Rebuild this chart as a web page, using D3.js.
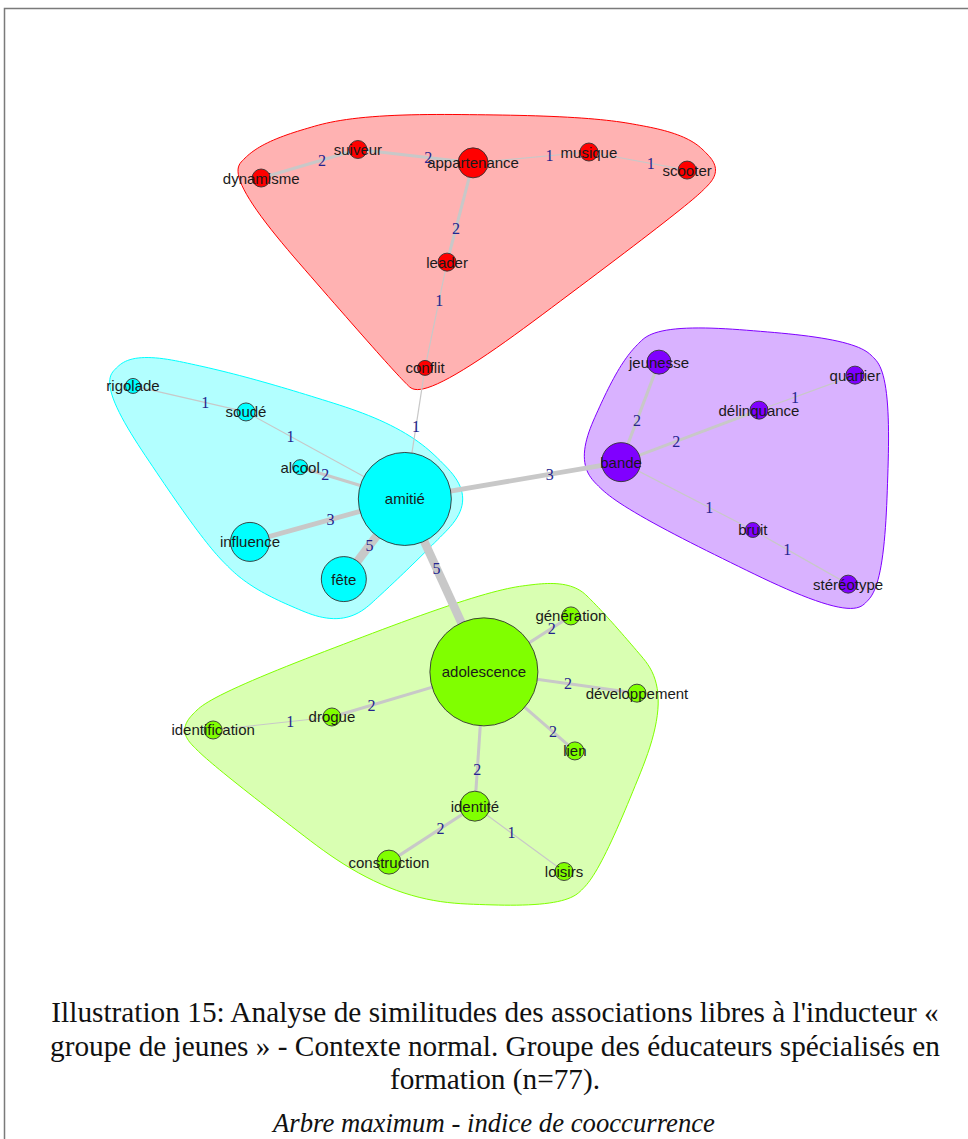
<!DOCTYPE html>
<html>
<head>
<meta charset="utf-8">
<title>Analyse de similitudes</title>
<script src="https://cdnjs.cloudflare.com/ajax/libs/d3/7.8.5/d3.min.js"></script>
<style>
  body { margin: 0; background: #fff; }
  svg { display: block; }
</style>
</head>
<body>
<div id="chart"></div>
<script>
// words (vertices), their community and frequency
var words = ["dynamisme", "suiveur", "appartenance", "musique", "scooter", "leader", "conflit",
  "rigolade", "soudé", "alcool", "amitié", "influence", "fête",
  "jeunesse", "quartier", "délinquance", "bande", "bruit", "stéréotype",
  "adolescence", "génération", "développement", "lien", "drogue", "identification", "identité", "construction", "loisirs"];
var community = [0, 0, 0, 0, 0, 0, 0, 1, 1, 1, 1, 1, 1, 2, 2, 2, 2, 2, 2, 3, 3, 3, 3, 3, 3, 3, 3, 3];
var freq = [6, 6, 10, 6, 6, 6, 5, 5, 6, 5, 31, 13, 15, 8, 6, 6, 13, 5, 6, 36, 6, 6, 6, 6, 6, 10, 8, 6];

// layout (normalised -1..1, as given by the graph layout)
var layoutX = [-0.645, -0.377, -0.058, 0.263, 0.535, -0.130, -0.191,
  -1.0, -0.687, -0.537, -0.247, -0.676, -0.416,
  0.457, 1.0, 0.734, 0.352, 0.717, 0.981,
  -0.028, 0.213, 0.396, 0.224, -0.449, -0.778, -0.053, -0.291, 0.194];
var layoutY = [-0.921, -1.0, -0.963, -0.993, -0.943, -0.688, -0.395,
  -0.345, -0.273, -0.120, -0.032, 0.087, 0.190,
  -0.411, -0.375, -0.278, -0.134, 0.054, 0.204,
  0.447, 0.292, 0.506, 0.666, 0.572, 0.608, 0.819, 0.974, 1.0];

// maximum tree edges, cooccurrence index
var edgeFrom = ["dynamisme", "suiveur", "appartenance", "musique", "appartenance", "leader", "conflit",
  "rigolade", "soudé", "alcool", "influence", "fête", "amitié", "amitié",
  "jeunesse", "bande", "délinquance", "bande", "bruit",
  "adolescence", "adolescence", "adolescence", "drogue", "identification", "adolescence", "identité", "identité"];
var edgeTo = ["suiveur", "appartenance", "musique", "scooter", "leader", "conflit", "amitié",
  "soudé", "amitié", "amitié", "amitié", "amitié", "adolescence", "bande",
  "bande", "délinquance", "quartier", "bruit", "stéréotype",
  "génération", "développement", "lien", "adolescence", "drogue", "identité", "construction", "loisirs"];
var cooc = [2, 2, 1, 1, 2, 1, 1, 1, 1, 2, 3, 5, 5, 3, 2, 2, 1, 1, 1, 2, 2, 2, 2, 1, 2, 2, 1];
var labelAt = [0.63, 0.61, 0.66, 0.63, 0.66, 0.36, 0.45, 0.64, 0.28, 0.24, 0.52, 0.42, 0.40, 0.67,
  0.58, 0.40, 0.375, 0.67, 0.36, 0.78, 0.55, 0.76, 0.26, 0.65, 0.73, 0.40, 0.41];

var groupColors = ["#ff0000", "#00ffff", "#8000ff", "#80ff00"];

var caption = ["Illustration 15: Analyse de similitudes des associations libres à l'inducteur «",
  "groupe de jeunes » - Contexte normal. Groupe des éducateurs spécialisés en",
  "formation (n=77)."];
var subtitle = "Arbre maximum - indice de cooccurrence";

var width = 968, height = 1139;

var svg = d3.select("#chart").append("svg")
  .attr("width", width)
  .attr("height", height);

// frame
svg.append("path")
  .attr("d", "M4.5," + height + "V8.5H" + width)
  .attr("fill", "none")
  .attr("stroke", "#7a7a7a")
  .attr("stroke-width", 1.5);

var x = d3.scaleLinear().domain([-1, 1]).range([133, 855]);
var y = d3.scaleLinear().domain([-1, 1]).range([149.5, 871.5]);
var r = d3.scaleLinear().domain([0, 36]).range([0, 54]);
var w = d3.scaleLinear().domain([1, 5]).range([1.2, 8.5]);
var expandBy = x(15 / 200) - x(0);

var nodes = words.map(function(d, i) {
  return { name: d, g: community[i], x: x(layoutX[i]), y: y(layoutY[i]), r: r(freq[i]) };
});
var byName = {};
nodes.forEach(function(n) { byName[n.name] = n; });

// closed x-spline (shape 0.5) like R's xspline
function fBlend(num, den) {
  var p = 2 * den * den, u = num / den;
  return u * u * u * (10 - p + (2 * p - 15) * u + (6 - p) * u * u);
}
function xspline(P, s) {
  var n = P.length, out = [];
  for (var k = 0; k < n; k++) {
    var p0 = P[k], p1 = P[(k + 1) % n], p2 = P[(k + 2) % n], p3 = P[(k + 3) % n];
    for (var t = 0; t < 1; t += 0.04) {
      var a0 = t < s ? fBlend(t - s, -(1 + s)) : 0;
      var a2 = fBlend(t + s, 1 + s);
      var a1 = fBlend(t - 1 - s, -1 - s);
      var a3 = t > 1 - s ? fBlend(t - 1 + s, 1 + s) : 0;
      var sum = a0 + a1 + a2 + a3;
      out.push([(a0 * p0[0] + a1 * p1[0] + a2 * p2[0] + a3 * p3[0]) / sum,
                (a0 * p0[1] + a1 * p1[1] + a2 * p2[1] + a3 * p3[1]) / sum]);
    }
  }
  return out;
}

var hullLine = d3.line().curve(d3.curveLinearClosed);
groupColors.forEach(function(col, g) {
  var pts = [];
  nodes.filter(function(n) { return n.g === g; }).forEach(function(n) {
    var e = n.r + expandBy;
    pts.push([n.x, n.y], [n.x - e, n.y], [n.x + e, n.y], [n.x, n.y - e], [n.x, n.y + e]);
  });
  var hull = d3.polygonHull(pts);
  svg.append("path")
    .attr("d", hullLine(xspline(hull, 0.5)))
    .attr("fill", col)
    .attr("fill-opacity", 0.3)
    .attr("stroke", col)
    .attr("stroke-width", 1);
});

var edges = edgeFrom.map(function(f, i) {
  return { s: byName[f], t: byName[edgeTo[i]], v: cooc[i], at: labelAt[i] };
});

svg.append("g").selectAll("line")
  .data(edges)
  .enter().append("line")
  .attr("x1", function(d) { return d.s.x; })
  .attr("y1", function(d) { return d.s.y; })
  .attr("x2", function(d) { return d.t.x; })
  .attr("y2", function(d) { return d.t.y; })
  .attr("stroke", "#c8c8c8")
  .attr("stroke-width", function(d) { return w(d.v); });

svg.append("g").selectAll("text")
  .data(edges)
  .enter().append("text")
  .attr("x", function(d) { return d.s.x + d.at * (d.t.x - d.s.x); })
  .attr("y", function(d) { return d.s.y + d.at * (d.t.y - d.s.y); })
  .attr("text-anchor", "middle")
  .attr("dominant-baseline", "central")
  .attr("font-family", "Liberation Serif, serif")
  .attr("font-size", 16)
  .attr("fill", "#24248e")
  .text(function(d) { return d.v; });

svg.append("g").selectAll("circle")
  .data(nodes)
  .enter().append("circle")
  .attr("cx", function(d) { return d.x; })
  .attr("cy", function(d) { return d.y; })
  .attr("r", function(d) { return d.r; })
  .attr("fill", function(d) { return groupColors[d.g]; })
  .attr("stroke", "#333")
  .attr("stroke-width", 0.9);

svg.append("g").selectAll("text")
  .data(nodes)
  .enter().append("text")
  .attr("x", function(d) { return d.x; })
  .attr("y", function(d) { return d.y; })
  .attr("text-anchor", "middle")
  .attr("dominant-baseline", "central")
  .attr("font-family", "Liberation Sans, Arial, sans-serif")
  .attr("font-size", 15)
  .attr("fill", "#1a1a1a")
  .text(function(d) { return d.name; });

// caption
svg.append("g").selectAll("text")
  .data(caption)
  .enter().append("text")
  .attr("x", 495)
  .attr("y", function(d, i) { return 1022 + i * 33.5; })
  .attr("text-anchor", "middle")
  .attr("font-family", "Liberation Serif, serif")
  .attr("font-size", 29.3)
  .attr("fill", "#111")
  .text(function(d) { return d; });

svg.append("text")
  .attr("x", 494)
  .attr("y", 1132)
  .attr("text-anchor", "middle")
  .attr("font-family", "Liberation Serif, serif")
  .attr("font-style", "italic")
  .attr("font-size", 26.7)
  .attr("fill", "#111")
  .text(subtitle);
</script>
</body>
</html>
